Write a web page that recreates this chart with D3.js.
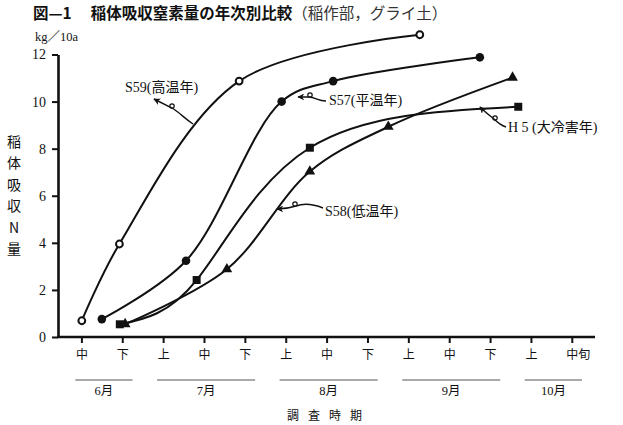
<!DOCTYPE html>
<html>
<head>
<meta charset="utf-8">
<script src="https://cdn.jsdelivr.net/npm/d3@7"></script>
<style>
  body { margin: 0; background: #fff; }
  text { font-family: "Liberation Serif", "Noto Sans CJK JP", serif; fill: #111; }
</style>
</head>
<body>
<div id="chart"></div>
<script>
// period ticks (旬) and month groups
const periods = ["中", "下", "上", "中", "下", "上", "中", "下", "上", "中", "下", "上", "中旬"];
const monthNames = ["6月", "7月", "8月", "9月", "10月"];
const monthFirst = [0, 2, 5, 8, 11];
const monthLast = [1, 4, 7, 10, 12];
const yTicks = [0, 2, 4, 6, 8, 10, 12];

// series: x = period index (0 = 6月中旬), y = kg/10a
const s59X = [0.01, 0.93, 3.86, 8.28];
const s59Y = [0.69, 3.95, 10.87, 12.84];
const s57X = [0.50, 2.56, 4.90, 6.16, 9.75];
const s57Y = [0.76, 3.24, 10.0, 10.87, 11.88];
const h5X = [0.94, 2.82, 5.59, 10.69];
const h5Y = [0.54, 2.42, 8.04, 9.78];
const s58X = [1.07, 3.56, 5.59, 7.51, 10.55];
const s58Y = [0.55, 2.88, 7.03, 8.93, 11.02];

const seriesNames = ["S59(高温年)", "S57(平温年)", "S58(低温年)", "H 5 (大冷害年)"];

let width = 623, height = 425;
let svg = d3.select("#chart").append("svg")
    .attr("width", width)
    .attr("height", height);

let x = d3.scaleLinear().domain([0, 12]).range([81.4, 571.8]);
let y = d3.scaleLinear().domain([0, 12]).range([337, 54.5]);

// arrow marker for the leaders
svg.append("defs").append("marker")
    .attr("id", "arr")
    .attr("viewBox", "0 0 10 10")
    .attr("refX", 9).attr("refY", 5)
    .attr("markerWidth", 7).attr("markerHeight", 7)
    .attr("markerUnits", "userSpaceOnUse")
    .attr("orient", "auto")
    .append("path")
    .attr("d", "M0,0 L10,5 L0,10 L3,5 z")
    .attr("fill", "#111");

// title
let title = svg.append("text").attr("x", 33).attr("y", 19).style("font-size", "15.5px");
title.append("tspan")
    .style("font-family", "'Noto Sans CJK JP'")
    .style("font-weight", "bold")
    .text("図—1　 稲体吸収窒素量の年次別比較");
title.append("tspan")
    .style("font-family", "'Noto Sans CJK JP'")
    .style("fill", "#333")
    .text("（稲作部，グライ土）");

// unit
svg.append("text").attr("x", 35).attr("y", 41)
    .style("font-size", "12.5px")
    .text("kg／10a");

// y axis
let yAxis = svg.append("g")
    .attr("transform", "translate(58,0)")
    .call(d3.axisLeft(y).tickValues(yTicks).tickSize(6).tickSizeOuter(0).tickPadding(6));
yAxis.select(".domain").attr("stroke", "#111").attr("stroke-width", 2.6);
yAxis.selectAll(".tick line").attr("stroke", "#111").attr("stroke-width", 2);
yAxis.selectAll(".tick text")
    .style("font-family", "'Liberation Serif', serif")
    .style("font-size", "14px")
    .attr("fill", "#111");

// x axis
let xAxis = svg.append("g")
    .attr("transform", "translate(0,337)")
    .call(d3.axisBottom(x).tickValues(d3.range(periods.length)).tickSize(6).tickPadding(7)
        .tickFormat(function(i) { return periods[i]; }));
xAxis.select(".domain").remove();
xAxis.selectAll(".tick line").attr("stroke", "#111").attr("stroke-width", 2);
xAxis.selectAll(".tick text")
    .style("font-family", "'Noto Sans CJK JP'")
    .style("font-size", "12px")
    .attr("fill", "#444")
    .attr("text-anchor", function(i) { return periods[i].length > 1 ? "start" : "middle"; })
    .attr("x", function(i) { return periods[i].length > 1 ? -6 : 0; });
svg.append("line")
    .attr("x1", 57).attr("x2", 595)
    .attr("y1", 337).attr("y2", 337)
    .attr("stroke", "#111").attr("stroke-width", 2.6);

// month rows
let mg = svg.append("g");
monthNames.forEach(function(m, i) {
    let x1 = x(monthFirst[i] - 0.15), x2 = x(monthLast[i] + 0.25);
    mg.append("line")
        .attr("x1", x1).attr("x2", x2)
        .attr("y1", 380).attr("y2", 380)
        .attr("stroke", "#555").attr("stroke-width", 1);
    mg.append("text")
        .attr("x", (x1 + x2) / 2).attr("y", 395)
        .attr("text-anchor", "middle")
        .style("font-size", "12.5px")
        .attr("fill", "#333")
        .text(m);
});

svg.append("text")
    .attr("x", 287).attr("y", 420)
    .style("font-family", "'Noto Sans CJK JP'")
    .style("font-size", "12px")
    .style("letter-spacing", "9px")
    .attr("fill", "#333")
    .text("調査時期");

// y axis title, one character per line
let yTitle = ["稲", "体", "吸", "収", "N", "量"];
svg.selectAll(".ytitle").data(yTitle)
    .enter().append("text")
    .attr("class", "ytitle")
    .attr("x", 14)
    .attr("y", function(d, i) { return 147 + i * 21.4; })
    .attr("text-anchor", "middle")
    .style("font-family", "'Noto Sans CJK JP'")
    .style("font-size", "14px")
    .attr("fill", "#333")
    .text(function(d) { return d; });

// lines
function lineFor(c) {
    return d3.line()
        .x(function(d) { return x(d[0]); })
        .y(function(d) { return y(d[1]); })
        .curve(c);
}

function zip(xs, ys) { return xs.map(function(v, i) { return [v, ys[i]]; }); }

let series = [
    {pts: zip(s59X, s59Y), mark: "open", curve: d3.curveCatmullRom.alpha(0.5)},
    {pts: zip(s57X, s57Y), mark: "dot", curve: d3.curveCatmullRom.alpha(0.5)},
    {pts: zip(h5X, h5Y), mark: "square", curve: d3.curveNatural},
    {pts: zip(s58X, s58Y), mark: "triangle", curve: d3.curveCatmullRom.alpha(0.5)}
];

series.forEach(function(s) {
    svg.append("path")
        .attr("d", lineFor(s.curve)(s.pts))
        .attr("fill", "none")
        .attr("stroke", "#111")
        .attr("stroke-width", 2);
});

series.forEach(function(s) {
    let g = svg.append("g");
    s.pts.forEach(function(p) {
        let cx = x(p[0]), cy = y(p[1]);
        if (s.mark == "open") {
            g.append("circle").attr("cx", cx).attr("cy", cy).attr("r", 3.4)
                .attr("fill", "#fff").attr("stroke", "#111").attr("stroke-width", 2);
        }
        else if (s.mark == "dot") {
            g.append("circle").attr("cx", cx).attr("cy", cy).attr("r", 4.3)
                .attr("fill", "#111");
        }
        else if (s.mark == "square") {
            g.append("path").attr("transform", "translate(" + cx + "," + cy + ")")
                .attr("d", d3.symbol(d3.symbolSquare, 64)()).attr("fill", "#111");
        }
        else {
            g.append("path").attr("transform", "translate(" + cx + "," + cy + ")")
                .attr("d", d3.symbol(d3.symbolTriangle, 50)()).attr("fill", "#111");
        }
    });
});

// labels with curly leaders
let labelPos = [[125, 92], [329, 105], [325, 216], [508, 132]];
let leaders = [
    "M193,124 C184,118 179,112 172,108 C166,105 160,102 154,99",
    "M326,101 C318,101 315,97 309,97 C305,97 302,97 298,97",
    "M323,208 C313,204 304,203 296,206 C290,208 284,209 277,209",
    "M506,127 C500,125 497,122 494,119 C489,115 485,112 480,107"
];
let loops = [[172, 106], [310, 95], [295, 204], [495, 118]];

seriesNames.forEach(function(name, i) {
    svg.append("text")
        .attr("x", labelPos[i][0]).attr("y", labelPos[i][1])
        .style("font-size", "14px")
        .text(name);
    svg.append("path")
        .attr("d", leaders[i])
        .attr("fill", "none")
        .attr("stroke", "#111")
        .attr("stroke-width", 1.4)
        .attr("marker-end", "url(#arr)");
    svg.append("circle")
        .attr("cx", loops[i][0]).attr("cy", loops[i][1]).attr("r", 2.2)
        .attr("fill", "none").attr("stroke", "#111").attr("stroke-width", 1.2);
});
</script>
</body>
</html>
